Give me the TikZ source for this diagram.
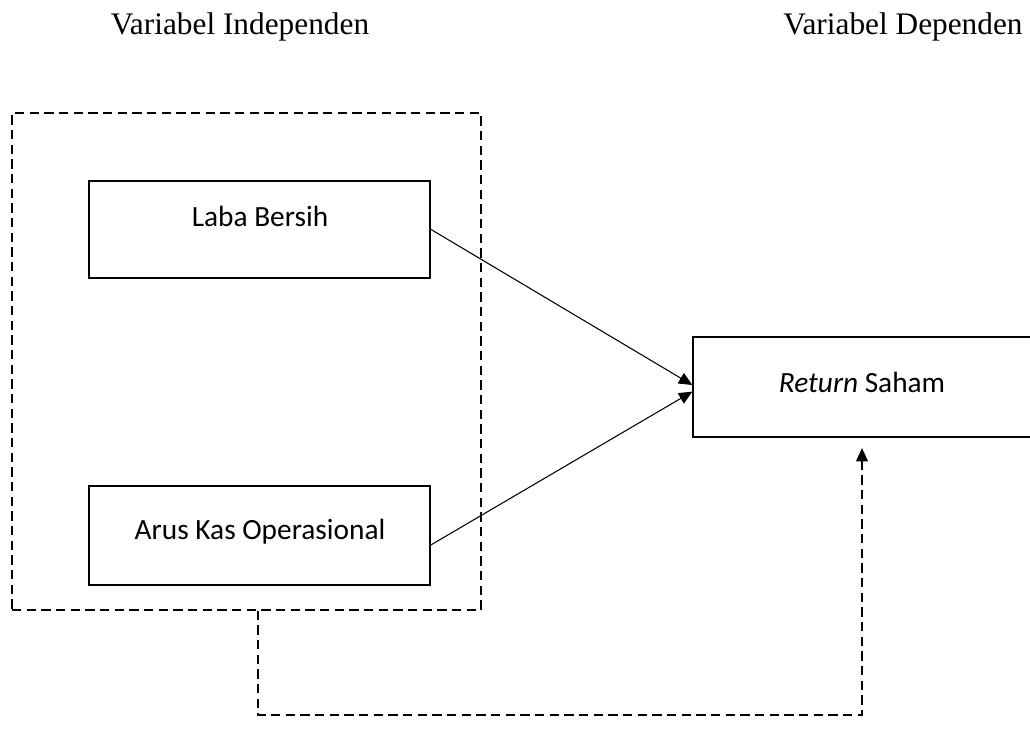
\documentclass[tikz,border=0pt]{standalone}
\usepackage{fontspec}
\setmainfont{Liberation Serif}
\newfontfamily\boxfont{Carlito}
\usetikzlibrary{arrows.meta}

\tikzset{
  varbox/.style={draw, line width=1.6pt, inner sep=0pt},
  groupbox/.style={draw, dashed, dash pattern=on 7pt off 4pt, line width=0.8pt, inner sep=0pt},
  boxtext/.style={font=\boxfont\fontsize{22}{26}\selectfont},
  titletext/.style={font=\fontsize{23.5}{28}\selectfont},
  link/.style={line width=0.8pt, -{Triangle[length=10pt, width=9pt]}},
  dashlink/.style={line width=0.8pt, dash pattern=on 7pt off 4pt, -{Triangle[length=10pt, width=9pt]}}
}

\begin{document}
\begin{tikzpicture}[x=0.75pt, y=-0.75pt]
  \useasboundingbox (0,0) rectangle (1030,742);
  \clip (0,0) rectangle (1030,742);

  % judul kolom
  \node[titletext] (judulX) at (240,27) {Variabel Independen};
  \node[titletext] (judulY) at (903,27) {Variabel Dependen};

  % kotak putus-putus variabel X
  \node[groupbox, minimum width=351.75pt, minimum height=372.75pt] (grupX) at (246.5,361.5) {};

  % kotak variabel
  \node[varbox, minimum width=255.75pt, minimum height=72.75pt] (laba) at (259.5,229.5) {};
  \node[boxtext] (labaTxt) at (260,216) {Laba Bersih};
  \node[varbox, minimum width=255.75pt, minimum height=74.25pt] (arus) at (259.5,535.5) {};
  \node[boxtext] (arusTxt) at (260,532) {Arus Kas Operasional};
  \node[varbox, minimum width=262pt, minimum height=75pt] (ret) at (868,387) {};
  \node[boxtext] (retTxt) at (862,382) {\textit{Return} Saham};

  % panah
  \draw[link] ([yshift=0pt]laba.east) -- ([yshift=1.5pt]ret.west);
  \draw[link] ([yshift=-7pt]arus.east) -- ([yshift=-3.5pt]ret.west);

  % jalur simultan
  \coordinate (turnA) at (258,715);
  \coordinate (turnB) at (862,715);
  \draw[dashlink, shorten >=7.5pt] (grupX.south -| turnA) -- (turnA) -- (turnB) -- (ret.south -| turnB);
\end{tikzpicture}
\end{document}
